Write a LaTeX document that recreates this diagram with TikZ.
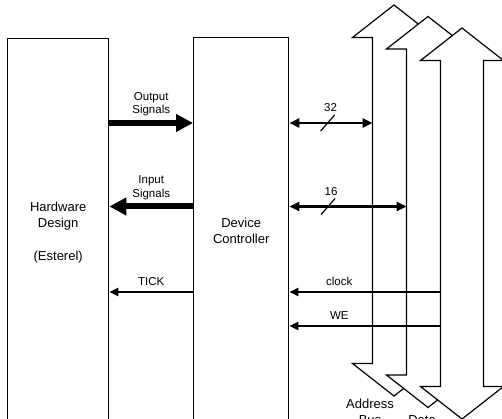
\documentclass[tikz,border=0pt]{standalone}
\usepackage{fontspec}
\setmainfont{Liberation Sans}
\usetikzlibrary{arrows.meta,positioning}

\begin{document}
\begin{tikzpicture}[x=1pt, y=-1pt,
  font=\fontsize{13}{16}\selectfont,
  unit/.style={draw, line width=1.4pt, minimum width=101pt, minimum height=387pt,
               anchor=north west, align=center, inner sep=0pt},
  lbl/.style={font=\fontsize{11.5}{13.5}\selectfont, align=center, inner sep=1pt},
  sig/.style={line width=6pt, -{Triangle[length=17pt, width=17pt]}},
  wire/.style={line width=2.6pt, -{Triangle[length=9pt, width=8pt]}},
  bus/.style={line width=2.6pt, {Triangle[length=10pt, width=9pt]}-{Triangle[length=10pt, width=9pt]}},
  busarrow/.style={draw, fill=white, line width=1.2pt, line join=miter},
  slash/.style={line width=1.2pt}
]
\useasboundingbox (0,0) rectangle (502,419);
\clip (0,0) rectangle (502,419);
% ---------------- Units ----------------
\node[unit] (hw) at (7,38) {Hardware\\Design\\[17pt](Esterel)};
\node[unit, minimum width=95pt, minimum height=386pt] (dc) at (193,37) {Device\\Controller};
% ---------------- Buses ----------------
\foreach \cx/\dy [count=\i] in {394/0, 428/11.5, 462/23}{
  \draw[busarrow] (\cx,5+\dy) -- ++(41.5,32.5) -- ++(-20,0) -- (\cx+21.5,363.5+\dy)
    -- ++(20,0) -- (\cx,396+\dy) -- ++(-41.5,-32.5) -- ++(20,0)
    -- (\cx-21.5,37.5+\dy) -- ++(-20,0) -- cycle;
  \coordinate (bus\i) at (\cx-21.5,200+\dy);
}
\node[anchor=north, inner sep=1pt, align=center] (addr) at (370,398) {Address\\Bus};
\node[anchor=north, inner sep=1pt, align=center] (data) at (422,414) {Data\\Bus};
% ---------------- Rows ----------------
\coordinate (rowA) at (0,123);
\coordinate (rowB) at (0,206.5);
\coordinate (rowC) at (0,292);
\coordinate (rowD) at (0,326);
% ---------------- Signals ----------------
\draw[sig] (hw.east |- rowA) -- node[lbl, above=3pt]{Output\\Signals} (dc.west |- rowA);
\draw[sig] (dc.west |- rowB) -- node[lbl, above=3pt]{Input\\Signals} (hw.east |- rowB);
\draw[wire] (dc.west |- rowC) -- node[lbl, above=4pt]{TICK} (hw.east |- rowC);
% ---------------- Bus links ----------------
\draw[bus] (dc.east |- rowA) -- coordinate[pos=0.46] (w32) (bus1 |- rowA);
\draw[slash] ([shift={(-7,8)}]w32) -- ([shift={(7,-8)}]w32);
\node[lbl, above=10pt of w32, xshift=3pt] (n32) {32};
\draw[bus] (dc.east |- rowB) -- coordinate[pos=0.33] (w16) (bus2 |- rowB);
\draw[slash] ([shift={(-7,8)}]w16) -- ([shift={(7,-8)}]w16);
\node[lbl, above=10pt of w16, xshift=3pt] (n16) {16};
\draw[wire] (bus3 |- rowC) -- node[lbl, above=4pt, pos=0.67]{clock} (dc.east |- rowC);
\draw[wire] (bus3 |- rowD) -- node[lbl, above=4pt, pos=0.67]{WE} (dc.east |- rowD);
\end{tikzpicture}
\end{document}
